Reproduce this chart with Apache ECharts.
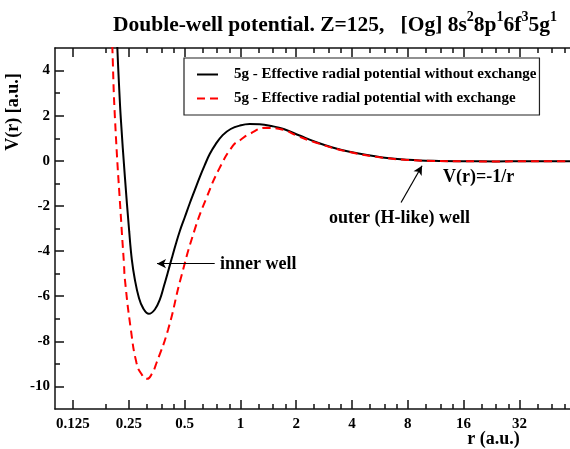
<!DOCTYPE html>
<html><head><meta charset="utf-8">
<script src="https://cdn.jsdelivr.net/npm/echarts@6.0.0/dist/echarts.min.js"></script>
<style>html,body{margin:0;padding:0;background:#fff}#c{width:570px;height:449px}</style>
</head><body><div id="c"></div>
<script>
// ---- data (r in a.u., V in a.u.) ----
const rBlack = [0.212, 0.2168, 0.2212, 0.2266, 0.2383, 0.2513, 0.2598, 0.2696, 0.2833, 0.2987, 0.3208, 0.3456, 0.3677, 0.3863, 0.4060, 0.4265, 0.4482, 0.4710, 0.5013, 0.5334, 0.5675, 0.6038, 0.6423, 0.6834, 0.7361, 0.8029, 0.8867, 0.9914, 1.1223, 1.2705, 1.4743, 1.7109, 2.0860, 2.57, 3.1414, 3.88, 5.839, 8, 11, 16, 24, 32, 45, 60];
const vBlack = [7.2, 5.05, 3.46, 1.85, -0.72, -3.12, -4.39, -5.26, -6.06, -6.53, -6.78, -6.59, -6.15, -5.57, -4.95, -4.32, -3.70, -3.12, -2.50, -1.88, -1.30, -0.72, -0.19, 0.30, 0.74, 1.14, 1.41, 1.56, 1.63, 1.62, 1.54, 1.41, 1.12, 0.82, 0.59, 0.40, 0.15, 0.05, 0.0, -0.02, -0.025, -0.022, -0.017, -0.014];
const rRed = [0.198, 0.2038, 0.2107, 0.2289, 0.2355, 0.2383, 0.2566, 0.2753, 0.2921, 0.3141, 0.3330, 0.3528, 0.4075, 0.4752, 0.5676, 0.6587, 0.767, 0.912, 1.0, 1.12, 1.38, 1.70, 2.0, 2.57, 3.88, 5.86, 8, 11, 16, 24, 32, 45, 60];
const vRed = [8.0, 5.05, 1.85, -3.04, -4.56, -5.26, -7.48, -8.96, -9.44, -9.66, -9.44, -8.96, -7.48, -5.26, -3.04, -1.61, -0.37, 0.67, 0.92, 1.19, 1.46, 1.38, 1.13, 0.80, 0.39, 0.14, 0.04, -0.005, -0.022, -0.026, -0.023, -0.018, -0.015];
const seriesNames = ['5g - Effective radial potential without exchange', '5g - Effective radial potential with exchange'];

const xMin = 0.1, xMax = 60;
const xTickValues = [0.125, 0.25, 0.5, 1, 2, 4, 8, 16, 32];
const xTickLabels = ['0.125', '0.25', '0.5', '1', '2', '4', '8', '16', '32'];
const xMinorTicks = [0.1875, 0.3125, 0.375, 0.4375, 0.625, 0.75, 0.875, 1.25, 1.5, 1.75, 2.5, 3, 3.5, 5, 6, 7, 10, 12, 14, 20, 24, 28, 40, 48, 56];
const yMin = -11, yMax = 5;
const yTickValues = [-10, -8, -6, -4, -2, 0, 2, 4];
const yMinorTicks = [-9, -7, -5, -3, -1, 1, 3];

const innerArrow = [[0.727, -4.56], [0.355, -4.56]];
const outerArrow = [[7.36, -1.85], [9.55, -0.22]];

// ---- chart ----
const FONT = 'Liberation Serif';
const AX = { color: '#111', width: 1.5 };
const LOG_MIN = Math.log2(xMin), LOG_MAX = Math.log2(xMax);
const xMajLog = xTickValues.map(Math.log2);
const xMinLog = xMinorTicks.map(Math.log2);
const zip = (a, b) => a.map((v, i) => [v, b[i]]);

function xAxisDeco(pos, minor, labels) {
  return {
    type: 'value', min: LOG_MIN, max: LOG_MAX, position: pos,
    axisLine: { show: !minor, onZero: false, lineStyle: AX },
    axisTick: { show: true, inside: true, length: minor ? 5 : 9, customValues: minor ? xMinLog : xMajLog, lineStyle: AX },
    axisLabel: labels ? {
      show: true, customValues: xMajLog, margin: 8,
      fontFamily: FONT, fontWeight: 'bold', fontSize: 15, color: '#000',
      formatter: v => { const i = xMajLog.findIndex(t => Math.abs(t - v) < 1e-6); return i >= 0 ? xTickLabels[i] : ''; }
    } : { show: false },
    splitLine: { show: false }
  };
}
function yAxisDeco(minor, labels) {
  return {
    type: 'value', min: yMin, max: yMax, position: 'left',
    axisLine: { show: !minor, onZero: false, lineStyle: AX },
    axisTick: { show: true, inside: true, length: minor ? 5 : 9, customValues: minor ? yMinorTicks : yTickValues, lineStyle: AX },
    axisLabel: labels ? { show: true, customValues: yTickValues, margin: 5, fontFamily: FONT, fontWeight: 'bold', fontSize: 15, color: '#000' } : { show: false },
    splitLine: { show: false }
  };
}

const chart = echarts.init(document.getElementById('c'), null, { renderer: 'canvas' });
chart.setOption({
  animation: false,
  backgroundColor: '#fff',
  title: {
    text: '{m|Double-well potential. Z=125,   [Og] 8s}{s|2}{m|8p}{s|1}{m|6f}{s|3}{m|5g}{s|1}',
    left: 113, top: 10, padding: 0,
    textStyle: {
      rich: {
        m: { fontFamily: FONT, fontWeight: 'bold', fontSize: 21.5, lineHeight: 30, color: '#000' },
        s: { fontFamily: FONT, fontWeight: 'bold', fontSize: 14, verticalAlign: 'top', color: '#000' }
      }
    }
  },
  grid: { left: 55, top: 48, right: -1, bottom: 40 },
  legend: {
    orient: 'vertical', left: 184, top: 58,
    padding: [9, 3, 9, 12], itemGap: 9, itemWidth: 21, itemHeight: 14,
    borderColor: '#222', borderWidth: 1.2, backgroundColor: '#fff',
    selectedMode: false,
    itemStyle: { color: 'rgba(0,0,0,0)', borderColor: 'rgba(0,0,0,0)', borderWidth: 0, opacity: 0 },
    textStyle: { fontFamily: FONT, fontWeight: 'bold', fontSize: 15, color: '#000', padding: [0, 0, 0, 11] },
    data: seriesNames
  },
  xAxis: [
    { type: 'log', logBase: 2, min: xMin, max: xMax, show: false },
    xAxisDeco('bottom', false, true),
    xAxisDeco('bottom', true, false),
    xAxisDeco('top', false, false),
    xAxisDeco('top', true, false)
  ],
  yAxis: [
    yAxisDeco(false, true),
    yAxisDeco(true, false)
  ],
  series: [
    {
      name: seriesNames[0], type: 'line', xAxisIndex: 0, yAxisIndex: 0,
      data: zip(rBlack, vBlack), smooth: 0.4, showSymbol: false, symbol: 'none',
      lineStyle: { color: '#000', width: 2 }, itemStyle: { color: '#000' },
      z: 3,
      markLine: {
        silent: true, symbol: ['none', 'arrow'], symbolSize: [7, 9],
        label: { show: false },
        lineStyle: { color: '#000', width: 1.2, type: 'solid' },
        data: [
          [{ coord: innerArrow[0] }, { coord: innerArrow[1] }],
          [{ coord: outerArrow[0] }, { coord: outerArrow[1] }]
        ]
      }
    },
    {
      name: seriesNames[1], type: 'line', xAxisIndex: 0, yAxisIndex: 0,
      data: zip(rRed, vRed), smooth: 0.5, showSymbol: false, symbol: 'none',
      lineStyle: { color: '#ff0000', width: 2, type: [8, 5] }, itemStyle: { color: '#ff0000' },
      z: 4
    }
  ],
  graphic: [
    { type: 'text', x: 13, y: 112, rotation: Math.PI / 2, style: { text: 'V(r) [a.u.]', fontFamily: FONT, fontWeight: 'bold', fontSize: 18, fill: '#000', align: 'center', verticalAlign: 'middle' } },
    { type: 'text', x: 493.5, y: 439, style: { text: 'r (a.u.)', fontFamily: FONT, fontWeight: 'bold', fontSize: 18, fill: '#000', align: 'center', verticalAlign: 'middle' } },
    { type: 'text', x: 220, y: 264, style: { text: 'inner well', fontFamily: FONT, fontWeight: 'bold', fontSize: 18, fill: '#000', align: 'left', verticalAlign: 'middle' } },
    { type: 'text', x: 443, y: 177, style: { text: 'V(r)=-1/r', fontFamily: FONT, fontWeight: 'bold', fontSize: 18, fill: '#000', align: 'left', verticalAlign: 'middle' } },
    { type: 'text', x: 329, y: 218, style: { text: 'outer (H-like) well', fontFamily: FONT, fontWeight: 'bold', fontSize: 18, fill: '#000', align: 'left', verticalAlign: 'middle' } }
  ]
});
</script></body></html>
